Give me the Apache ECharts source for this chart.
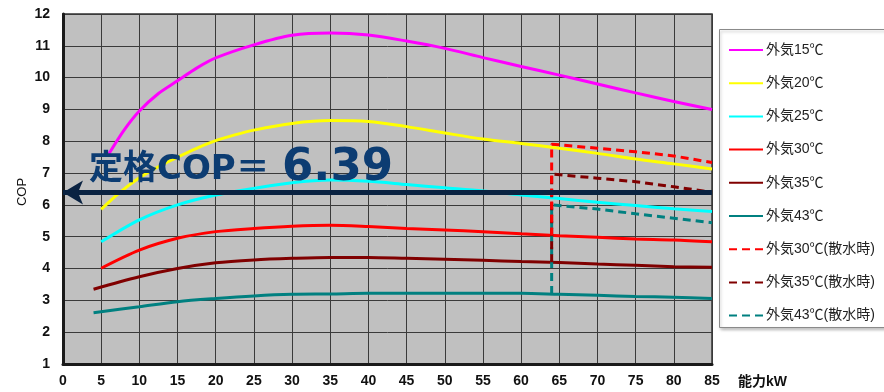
<!DOCTYPE html>
<html>
<head>
<meta charset="utf-8">
<script src="https://cdn.jsdelivr.net/npm/echarts@6/dist/echarts.min.js"></script>
<style>html,body{margin:0;padding:0;background:#fff;}#c{width:884px;height:392px;}</style>
</head>
<body>
<div id="c"></div>
<script>
// ---- data ----
const xTicks = [0,5,10,15,20,25,30,35,40,45,50,55,60,65,70,75,80,85];
const yTicks = [1,2,3,4,5,6,7,8,9,10,11,12];
const ratedCOP = 6.39;

const x15 = [6, 8, 10, 12.5, 15, 17.5, 20, 25, 30, 35, 40, 45, 50, 55, 60, 65, 70, 75, 80, 85];
const cop15 = [7.6, 8.35, 8.95, 9.5, 9.9, 10.3, 10.62, 11.03, 11.33, 11.4, 11.34, 11.15, 10.92, 10.63, 10.35, 10.08, 9.8, 9.52, 9.25, 9.0];

const x20 = [5, 7.5, 10, 12.5, 15, 17.5, 20, 22.5, 25, 30, 35, 40, 45, 50, 55, 60, 65, 70, 75, 80, 85];
const cop20 = [5.86, 6.4, 6.85, 7.2, 7.5, 7.78, 8.02, 8.2, 8.35, 8.56, 8.65, 8.62, 8.46, 8.26, 8.07, 7.93, 7.78, 7.62, 7.44, 7.29, 7.13];

const x25 = [5, 10, 15, 20, 25, 30, 35, 40, 45, 50, 55, 60, 65, 70, 75, 80, 85];
const cop25 = [4.84, 5.53, 6.0, 6.31, 6.52, 6.7, 6.78, 6.74, 6.64, 6.54, 6.44, 6.31, 6.2, 6.08, 5.98, 5.88, 5.79];

const x30 = [5, 10, 15, 20, 25, 30, 35, 40, 45, 50, 55, 60, 65, 70, 75, 80, 85];
const cop30 = [4.01, 4.58, 4.95, 5.16, 5.26, 5.33, 5.36, 5.32, 5.26, 5.21, 5.16, 5.09, 5.03, 4.98, 4.93, 4.9, 4.84];

const x35 = [4, 10, 15, 20, 25, 30, 35, 40, 45, 50, 55, 60, 65, 70, 75, 80, 85];
const cop35 = [3.35, 3.74, 4.0, 4.18, 4.27, 4.32, 4.35, 4.35, 4.32, 4.29, 4.26, 4.22, 4.19, 4.14, 4.1, 4.06, 4.04];

const x43 = [4, 10, 15, 20, 25, 30, 35, 40, 45, 50, 55, 60, 65, 70, 75, 80, 85];
const cop43 = [2.61, 2.8, 2.96, 3.06, 3.14, 3.19, 3.2, 3.22, 3.22, 3.22, 3.22, 3.22, 3.19, 3.16, 3.12, 3.1, 3.06];

const xSpray = [64, 64, 70, 75, 80, 85];
const cop30Spray = [5.04, 7.91, 7.78, 7.67, 7.54, 7.33];
const cop35Spray = [4.2, 6.97, 6.84, 6.73, 6.57, 6.4];
const cop43Spray = [3.2, 6.0, 5.87, 5.72, 5.58, 5.44];

const names = ['外気15℃','外気20℃','外気25℃','外気30℃','外気35℃','外気43℃','外気30℃(散水時)','外気35℃(散水時)','外気43℃(散水時)'];
const colors = ['#ff00ff','#ffff00','#00ffff','#ff0000','#800000','#008080','#ff0000','#800000','#008080'];

// ---- build ----
const zip = (xs, ys) => xs.map((x, i) => [x, ys[i]]);
const solid = [[x15,cop15],[x20,cop20],[x25,cop25],[x30,cop30],[x35,cop35],[x43,cop43]];
const dashed = [cop30Spray, cop35Spray, cop43Spray];

const series = [];
solid.forEach((s, i) => {
  series.push({
    name: names[i], type: 'line', data: zip(s[0], s[1]), smooth: 0.3,
    symbol: 'none', lineStyle: { color: colors[i], width: 3 }, itemStyle: { color: colors[i] },
    z: 3, silent: true
  });
});
dashed.forEach((ys, j) => {
  const i = 6 + j;
  series.push({
    name: names[i], type: 'line', data: zip(xSpray, ys), smooth: false,
    symbol: 'none', lineStyle: { color: colors[i], width: 3, type: [8, 5] }, itemStyle: { color: colors[i] },
    z: 4 - j * 0.1, silent: true
  });
});
series[series.length - 1].markLine = {
  silent: true, symbol: ['arrow', 'none'], symbolSize: [18, 20],
  lineStyle: { color: '#0a2342', width: 5, type: 'solid' },
  label: { show: false }, emphasis: { disabled: true },
  data: [{ yAxis: ratedCOP }], z: 10
};

const axisFont = { fontSize: 14, fontWeight: 'bold', color: '#111', fontFamily: 'Liberation Sans, Arial' };

const option = {
  animation: false,
  grid: { left: 63, top: 14, right: 172, bottom: 28, show: true, backgroundColor: '#c0c0c0',
          borderColor: '#333', borderWidth: 1.5, containLabel: false, outerBoundsMode: 'none' },
  xAxis: {
    type: 'value', min: xTicks[0], max: xTicks[xTicks.length - 1], interval: 5,
    axisLine: { show: true, onZero: false, lineStyle: { color: '#1a1a1a', width: 3 } },
    axisTick: { show: false },
    axisLabel: Object.assign({ margin: 10 }, axisFont),
    splitLine: { show: true, lineStyle: { color: '#3a3a3a', width: 1 } }
  },
  yAxis: {
    type: 'value', min: yTicks[0], max: yTicks[yTicks.length - 1], interval: 1,
    axisLine: { show: true, onZero: false, lineStyle: { color: '#1a1a1a', width: 3 } },
    axisTick: { show: false },
    axisLabel: Object.assign({ margin: 13 }, axisFont),
    splitLine: { show: true, lineStyle: { color: '#3a3a3a', width: 1 } }
  },
  legend: {
    data: names, orient: 'vertical', left: 723, top: 38,
    itemWidth: 34, itemHeight: 14, itemGap: 19.2, selectedMode: false,
    itemStyle: { opacity: 0, borderWidth: 0 },
    textStyle: { fontSize: 14, color: '#222', fontFamily: 'Liberation Sans, Noto Sans CJK JP', padding: [0,0,0,-2] }
  },
  graphic: [
    { type: 'rect', left: 719, top: 29, z: 0, shape: { width: 180, height: 298 },
      style: { fill: '#fff', stroke: '#8a8a8a', lineWidth: 1, shadowBlur: 3, shadowColor: 'rgba(0,0,0,0.25)', shadowOffsetX: 1, shadowOffsetY: 2 } },
    { type: 'text', x: 22, y: 192, rotation: Math.PI / 2, z: 10,
      style: { text: 'COP', fill: '#111', font: '13px "Liberation Sans", Arial', align: 'center', verticalAlign: 'middle' } },
    { type: 'text', left: 738, top: 375, z: 10,
      style: { text: '能力kW', fill: '#111', font: 'bold 14px "Liberation Sans", "Noto Sans CJK JP"' } },
    { type: 'text', x: 89, y: 170, z: 100,
      style: { text: '定格COP＝', fill: '#0c3c72', font: 'bold 34px "DejaVu Sans", "Noto Sans CJK JP"', verticalAlign: 'middle' } },
    { type: 'text', x: 282, y: 168, z: 100,
      style: { text: String(ratedCOP), fill: '#0c3c72', font: 'bold 45px "DejaVu Sans", "Noto Sans CJK JP"', verticalAlign: 'middle' } }
  ],
  series: series
};

const chart = echarts.init(document.getElementById('c'), null, { renderer: 'canvas' });
chart.setOption(option);
</script>
</body>
</html>
